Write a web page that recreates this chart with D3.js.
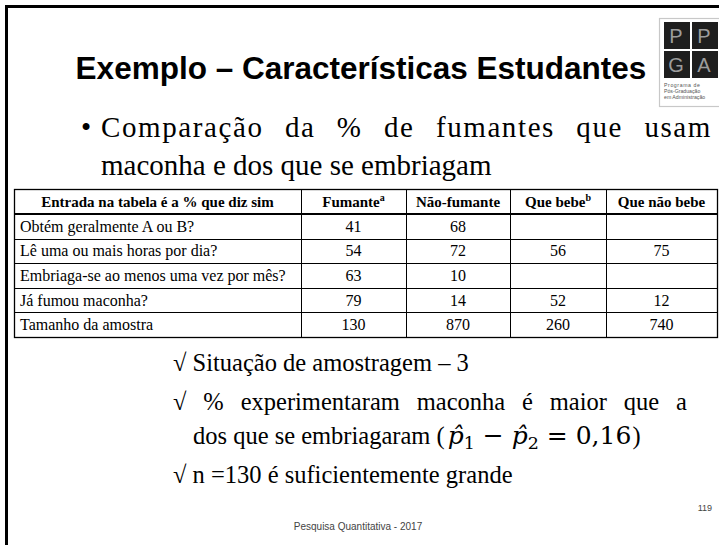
<!DOCTYPE html>
<html>
<head>
<meta charset="utf-8">
<script src="https://cdn.jsdelivr.net/npm/d3@7"></script>
<style>
  html, body { margin: 0; padding: 0; background: #fff; }
  svg { display: block; }
</style>
</head>
<body>
<svg id="slide" width="719" height="545"></svg>
<script>
// ---- data ----
const titleText = "Exemplo – Características Estudantes";
const bulletLines = ["Comparação da % de fumantes que usam", "maconha e dos que se embriagam"];
const columns = ["Entrada na tabela é a % que diz sim", "Fumante", "Não-fumante", "Que bebe", "Que não bebe"];
const columnSup = ["", "a", "", "b", ""];
const rowLabels = ["Obtém geralmente A ou B?", "Lê uma ou mais horas por dia?", "Embriaga-se ao menos uma vez por mês?", "Já fumou maconha?", "Tamanho da amostra"];
const fumante = [41, 54, 63, 79, 130];
const naoFumante = [68, 72, 10, 14, 870];
const queBebe = [null, 56, null, 52, 260];
const queNaoBebe = [null, 75, null, 12, 740];
const checkLines = ["√ Situação de amostragem – 3", "√ % experimentaram maconha é maior que a", "dos que se embriagaram (", "√ n =130 é suficientemente grande"];
const logoLetters = ["P", "P", "G", "A"];
const logoLines = ["Programa de", "Pós-Graduação", "em Administração"];
const footerText = "Pesquisa Quantitativa - 2017";
const pageNumber = "119";

const svg = d3.select("#slide");
const serif = "'Liberation Serif','Times New Roman',serif";
const sans = "'Liberation Sans',Arial,sans-serif";
const mathFont = "'DejaVu Serif',serif";

function justify(sel, target) {
  const txt = sel.text();
  const spaces = (txt.match(/ /g) || []).length;
  const w = sel.node().getComputedTextLength();
  if (spaces > 0) sel.attr("word-spacing", (target - w) / spaces);
}

// slide border (left + top visible)
svg.append("path").attr("d", "M6.5,545 L6.5,6.5 L719,6.5")
  .attr("fill", "none").attr("stroke", "#000").attr("stroke-width", 3);

// title
svg.append("text").attr("x", 361).attr("y", 79).attr("text-anchor", "middle")
  .attr("font-family", sans).attr("font-weight", "bold").attr("font-size", 31.5)
  .attr("fill", "#000").text(titleText);

// logo
const logo = svg.append("g");
logo.append("rect").attr("x", 659.5).attr("y", 18.5).attr("width", 70).attr("height", 88)
  .attr("fill", "#fff").attr("stroke", "#c8c8c8").attr("stroke-width", 1.2);
logoLetters.forEach((ch, k) => {
  const c = k % 2, r = Math.floor(k / 2);
  const lx = 664 + c * 28, ly = 22 + r * 29;
  logo.append("rect").attr("x", lx).attr("y", ly).attr("width", 26).attr("height", 27).attr("fill", "#1e1e1e");
  logo.append("text").attr("x", lx + 12).attr("y", ly + 21).attr("text-anchor", "middle")
    .attr("font-family", sans).attr("font-size", 20).attr("fill", "#9c9c9c").text(ch);
});
logoLines.forEach((t, i) => {
  logo.append("text").attr("x", 664).attr("y", 87 + i * 6)
    .attr("font-family", sans).attr("font-size", 5.2).attr("letter-spacing", i === 0 ? 0.6 : 0)
    .attr("fill", "#555").text(t);
});

// bullet
svg.append("text").attr("x", 81).attr("y", 137).attr("font-family", serif).attr("font-size", 29).text("•");
bulletLines.forEach((t, i) => {
  const tx = svg.append("text").attr("x", 101).attr("y", 137 + i * 38)
    .attr("font-family", serif).attr("font-size", 29).attr("fill", "#000").text(t);
  if (i === 0) { tx.attr("letter-spacing", 1.6); justify(tx, 611); }
});

// table
const colEdges = [14, 301, 406, 510, 606, 717];
const headerTop = 189, headerBottom = 214, tableBottom = 337;
const y = d3.scaleBand().domain(rowLabels).range([headerBottom, tableBottom]);
const tbl = svg.append("g");
tbl.append("rect").attr("x", colEdges[0] + 0.5).attr("y", headerTop + 0.5)
  .attr("width", colEdges[5] - colEdges[0]).attr("height", tableBottom - headerTop)
  .attr("fill", "#fff").attr("stroke", "#000").attr("stroke-width", 1.3);
tbl.append("line").attr("x1", colEdges[0]).attr("x2", colEdges[5])
  .attr("y1", headerBottom).attr("y2", headerBottom).attr("stroke", "#000").attr("stroke-width", 2);
rowLabels.slice(1).forEach(r => {
  tbl.append("line").attr("x1", colEdges[0]).attr("x2", colEdges[5])
    .attr("y1", Math.round(y(r)) + 0.5).attr("y2", Math.round(y(r)) + 0.5).attr("stroke", "#000").attr("stroke-width", 1);
});
colEdges.slice(1, 5).forEach(cx => {
  tbl.append("line").attr("x1", cx + 0.5).attr("x2", cx + 0.5).attr("y1", headerTop).attr("y2", tableBottom)
    .attr("stroke", "#000").attr("stroke-width", 1);
});
columns.forEach((c, i) => {
  const cx = (colEdges[i] + colEdges[i + 1]) / 2;
  const t = tbl.append("text").attr("x", cx).attr("y", headerTop + 18).attr("text-anchor", "middle")
    .attr("font-family", serif).attr("font-weight", "bold").attr("font-size", 15).text(c);
  if (columnSup[i]) t.append("tspan").attr("font-size", 10).attr("dy", -6).text(columnSup[i]);
});
const valueCols = [fumante, naoFumante, queBebe, queNaoBebe];
rowLabels.forEach((r, ri) => {
  const ty = y(r) + y.bandwidth() / 2 + 5.5;
  tbl.append("text").attr("x", colEdges[0] + 6).attr("y", ty)
    .attr("font-family", serif).attr("font-size", 16).text(r);
  valueCols.forEach((vals, ci) => {
    if (vals[ri] == null) return;
    const cx = (colEdges[ci + 1] + colEdges[ci + 2]) / 2;
    tbl.append("text").attr("x", cx).attr("y", ty).attr("text-anchor", "middle")
      .attr("font-family", serif).attr("font-size", 16).text(vals[ri]);
  });
});

// check lines
const fs2 = 24.5;
svg.append("text").attr("x", 173).attr("y", 371).attr("font-family", serif).attr("font-size", fs2)
  .text(checkLines[0]);
const l2 = svg.append("text").attr("x", 173).attr("y", 410).attr("font-family", serif).attr("font-size", fs2)
  .text(checkLines[1]);
justify(l2, 514);
const l3 = svg.append("text").attr("x", 193).attr("y", 444).attr("font-family", serif).attr("font-size", fs2)
  .text(checkLines[2]);
const mx = 193 + l3.node().getComputedTextLength() + 3;
const m = svg.append("text").attr("x", mx).attr("y", 444).attr("font-family", mathFont).attr("font-size", 25);
m.append("tspan").attr("font-style", "italic").text("p\u0302");
m.append("tspan").attr("font-size", 17.5).attr("dy", 5).text("1");
m.append("tspan").attr("dy", -5).text(" \u2212 ");
m.append("tspan").attr("font-style", "italic").text("p\u0302");
m.append("tspan").attr("font-size", 17.5).attr("dy", 5).text("2");
m.append("tspan").attr("dy", -5).text(" = 0,16");
const mx2 = mx + m.node().getComputedTextLength() + 1;
svg.append("text").attr("x", mx2).attr("y", 444).attr("font-family", serif).attr("font-size", fs2).text(")");
svg.append("text").attr("x", 173).attr("y", 483).attr("font-family", serif).attr("font-size", fs2)
  .text(checkLines[3]);

// footer
svg.append("text").attr("x", 712).attr("y", 511).attr("text-anchor", "end")
  .attr("font-family", sans).attr("font-size", 9).attr("fill", "#444").text(pageNumber);
svg.append("text").attr("x", 358).attr("y", 530).attr("text-anchor", "middle")
  .attr("font-family", sans).attr("font-size", 10).attr("fill", "#444").text(footerText);
</script>
</body>
</html>
